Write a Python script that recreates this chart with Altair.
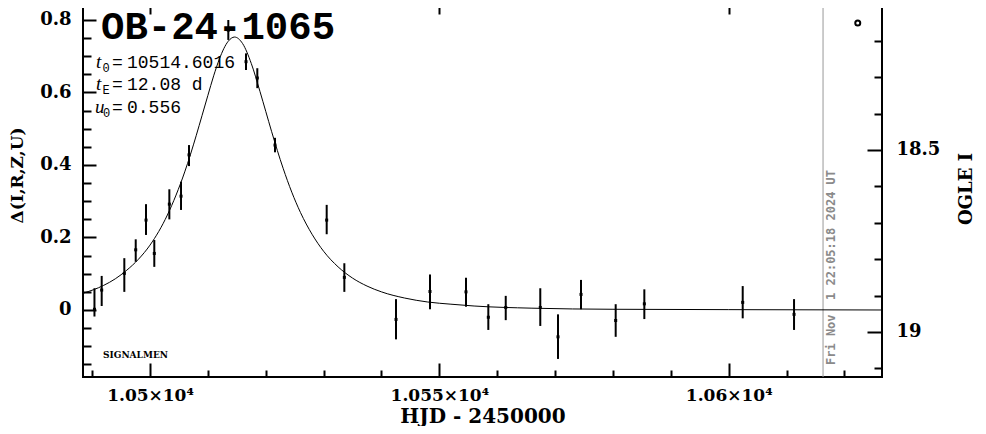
import altair as alt
import pandas as pd

# ---------------- data ----------------
hjd = [10490.4, 10491.65, 10495.56, 10497.53, 10499.31, 10500.74, 10503.34, 10505.36, 10506.74,
       10513.53, 10516.59, 10518.54, 10521.6, 10530.53, 10533.58, 10542.51, 10548.38, 10554.6,
       10558.46, 10561.47, 10567.44, 10570.5, 10574.48, 10580.47, 10585.42, 10602.42, 10611.29]
delta = [0.002, 0.055, 0.101, 0.166, 0.248, 0.156, 0.292, 0.314, 0.428,
         0.772, 0.685, 0.640, 0.455, 0.248, 0.090, -0.026, 0.051, 0.050,
         -0.020, 0.007, 0.007, -0.074, 0.043, -0.029, 0.017, 0.021, -0.012]
delta_upper = [0.060, 0.094, 0.143, 0.195, 0.292, 0.193, 0.333, 0.354, 0.455,
               0.800, 0.708, 0.667, 0.475, 0.290, 0.129, 0.030, 0.098, 0.089,
               0.016, 0.039, 0.060, -0.012, 0.083, 0.016, 0.057, 0.066, 0.030]
delta_lower = [-0.018, 0.011, 0.050, 0.133, 0.207, 0.119, 0.250, 0.276, 0.397,
               0.745, 0.662, 0.612, 0.435, 0.209, 0.050, -0.081, 0.002, 0.009,
               -0.055, -0.028, -0.044, -0.135, 0.002, -0.074, -0.025, -0.023, -0.055]

model_hjd = [10488.4, 10492, 10494, 10496, 10498, 10500, 10503, 10504.5, 10506, 10508, 10509,
             10510, 10511, 10512, 10513.5, 10514.6, 10516, 10517.5, 10519, 10520, 10521, 10523,
             10524.5, 10526, 10528, 10530, 10532.5, 10535, 10537.5, 10540, 10544, 10548, 10552,
             10556, 10566, 10580, 10600, 10626.6]
model_delta = [0.046, 0.068, 0.086, 0.110, 0.140, 0.179, 0.262, 0.317, 0.381, 0.482, 0.537,
               0.592, 0.646, 0.693, 0.741, 0.753, 0.735, 0.680, 0.603, 0.548, 0.493, 0.391,
               0.325, 0.269, 0.209, 0.162, 0.119, 0.088, 0.066, 0.050, 0.033, 0.022, 0.016,
               0.011, 0.005, 0.002, 0.001, 0.000]

x_major_ticks = [10500, 10550, 10600]
x_tick_labels = ["1.05×10⁴", "1.055×10⁴", "1.06×10⁴"]
x_minor_ticks = [10490, 10510, 10520, 10530, 10540, 10560, 10570, 10580, 10590, 10610, 10620]
y_major_ticks = [0, 0.2, 0.4, 0.6, 0.8]
y_tick_labels = ["0", "0.2", "0.4", "0.6", "0.8"]
y_minor_ticks = [-0.15, -0.1, -0.05, 0.05, 0.1, 0.15, 0.25, 0.3, 0.35, 0.45, 0.5, 0.55,
                 0.65, 0.7, 0.75, 0.85]
mag_major_ticks = [18.5, 19.0]
mag_tick_labels = ["18.5", "19"]
mag_minor_ticks = [18.1, 18.2, 18.3, 18.4, 18.6, 18.7, 18.8, 18.9, 19.1]

marker_hjd = [10622.3]
marker_mag = [18.151]

now_hjd = [10616.3]
now_label = ["Fri Nov\u00a0 1 22:05:18 2024 UT"]

event_name = "OB-24-1065"
param_names = ["t", "t", "u"]
param_subs = ["0", "E", "0"]
param_values = ["10514.6016", "12.08 d", "0.556"]
credit = "SIGNALMEN"

# ---------------- tables ----------------
pts = pd.DataFrame({"hjd": hjd, "delta": delta, "lo": delta_lower, "hi": delta_upper})
model = pd.DataFrame({"hjd": model_hjd, "delta": model_delta})
marker = pd.DataFrame({"hjd": marker_hjd, "mag": marker_mag})
now = pd.DataFrame({"hjd": now_hjd, "label": now_label})

SERIF = "DejaVu Serif"
MONO = "Liberation Mono"


def label_expr(values, labels):
    expr = "''"
    for v, l in reversed(list(zip(values, labels))):
        expr = f"abs(datum.value - {v}) < 1e-6 ? '{l}' : ({expr})"
    return expr


def tick_axis(orient, values, size):
    return alt.Axis(orient=orient, values=values, labels=False, domain=False, grid=False,
                    ticks=True, tickSize=size, offset=-size, tickColor="black",
                    tickWidth=2, title=None)


xs = alt.Scale(domain=[10488.42, 10626.49], nice=False, zero=False)
ys = alt.Scale(domain=[-0.18483, 0.85517], nice=False, zero=False)
ms = alt.Scale(domain=[19.12363, 18.08791], nice=False, zero=False)

xlab_axis = alt.Axis(orient="bottom", values=x_major_ticks, ticks=False, domain=False, grid=False,
                     labelExpr=label_expr(x_major_ticks, x_tick_labels), labelFont=SERIF,
                     labelFontSize=17, labelFontWeight="bold", labelColor="black",
                     labelPadding=10, title="HJD - 2450000", titleFont=SERIF, titleFontSize=20,
                     titleFontWeight="bold", titleColor="black", titlePadding=3)
ylab_axis = alt.Axis(orient="left", values=y_major_ticks, ticks=False, domain=False, grid=False,
                     labelExpr=label_expr(y_major_ticks, y_tick_labels), labelFont=SERIF,
                     labelFontSize=18, labelFontWeight="bold", labelColor="black",
                     labelPadding=12, title="Δ(I,R,Z,U)", titleFont=SERIF, titleFontSize=17,
                     titleFontWeight="bold", titleColor="black", titlePadding=13, titleY=175)
mlab_axis = alt.Axis(orient="right", values=mag_major_ticks, ticks=False, domain=False, grid=False,
                     labelExpr=label_expr(mag_major_ticks, mag_tick_labels), labelFont=SERIF,
                     labelFontSize=18, labelFontWeight="bold", labelColor="black",
                     labelPadding=14, title="OGLE I", titleFont=SERIF, titleFontSize=18,
                     titleFontWeight="bold", titleColor="black", titleAngle=270,
                     titleBaseline="top", titlePadding=18)

points = alt.Chart(pts).mark_square(size=9, color="black", opacity=1).encode(
    x=alt.X("hjd:Q", scale=xs, axis=xlab_axis),
    y=alt.Y("delta:Q", scale=ys, axis=ylab_axis),
)
bars = alt.Chart(pts).mark_rule(color="black", strokeWidth=2).encode(
    x=alt.X("hjd:Q", scale=xs, axis=tick_axis("bottom", x_major_ticks, 14)),
    y=alt.Y("lo:Q", scale=ys, axis=tick_axis("left", y_major_ticks, 13)),
    y2="hi:Q",
)
line = alt.Chart(model).mark_line(color="black", strokeWidth=1, interpolate="monotone",
                                  clip=True).encode(
    x=alt.X("hjd:Q", scale=xs, axis=tick_axis("bottom", x_minor_ticks, 7)),
    y=alt.Y("delta:Q", scale=ys, axis=tick_axis("left", y_minor_ticks, 8)),
)
nowline = alt.Chart(now).mark_rule(color="#999999", strokeWidth=1).encode(
    x=alt.X("hjd:Q", scale=xs, axis=tick_axis("top", x_major_ticks, 14)),
)
nowtext = alt.Chart(now).mark_text(font="DejaVu Sans Mono", fontSize=12, fontWeight="bold",
                                   color="#8a8a8a", angle=270, align="left", baseline="top",
                                   dy=3).encode(
    x=alt.X("hjd:Q", scale=xs, axis=tick_axis("top", x_minor_ticks, 7)),
    y=alt.value(365),
    text="label:N",
)
magpt = alt.Chart(marker).mark_point(shape="circle", filled=False, size=25, strokeWidth=2,
                                     color="black", opacity=1).encode(
    x=alt.X("hjd:Q", scale=xs, axis=None),
    y=alt.Y("mag:Q", scale=ms, axis=mlab_axis),
)
magmaj = alt.Chart(marker).mark_point(opacity=0).encode(
    x=alt.X("hjd:Q", scale=xs, axis=None),
    y=alt.Y("mag:Q", scale=ms, axis=tick_axis("right", mag_major_ticks, 15)),
)
magmin = alt.Chart(marker).mark_point(opacity=0).encode(
    x=alt.X("hjd:Q", scale=xs, axis=None),
    y=alt.Y("mag:Q", scale=ms, axis=tick_axis("right", mag_minor_ticks, 8)),
)


def ann(df, **kw):
    return alt.Chart(df).mark_text(align="left", baseline="alphabetic", color="black", **kw).encode(
        x=alt.X("px:Q", scale=None, axis=None),
        y=alt.Y("py:Q", scale=None, axis=None),
        text="txt:N",
    )


title_df = pd.DataFrame({"txt": [event_name], "px": [18], "py": [39]})
ital_df = pd.DataFrame({"txt": param_names, "px": [13, 13, 12], "py": [68, 90, 113]})
sub_df = pd.DataFrame({"txt": param_subs, "px": [19.5, 19.5, 20], "py": [72, 94, 117]})
eq_df = pd.DataFrame({"txt": ["=", "=", "="], "px": [29, 29, 29], "py": [68, 90, 113]})
val_df = pd.DataFrame({"txt": param_values, "px": [44, 44, 44], "py": [68, 90, 113]})
credit_df = pd.DataFrame({"txt": [credit], "px": [20], "py": [358]})

layers = [
    nowline, line, bars, points, nowtext, magpt, magmaj, magmin,
    ann(title_df, font=MONO, fontSize=39, fontWeight="bold"),
    ann(ital_df, font="Liberation Serif", fontSize=19, fontStyle="italic"),
    ann(sub_df, font=MONO, fontSize=12),
    ann(eq_df, font=MONO, fontSize=18),
    ann(val_df, font=MONO, fontSize=18),
    ann(credit_df, font=SERIF, fontSize=9, fontWeight="bold"),
]

chart = alt.layer(*layers).resolve_scale(
    x="independent", y="independent"
).resolve_axis(
    x="independent", y="independent"
).properties(
    width=799, height=377,
    padding={"left": 75, "top": -8, "right": 96, "bottom": 49},
    autosize=alt.AutoSizeParams(type="none"),
    background="white",
).configure_view(stroke="black", strokeWidth=2)

chart.save("out.html", embed_options={"renderer": "svg", "actions": False})
